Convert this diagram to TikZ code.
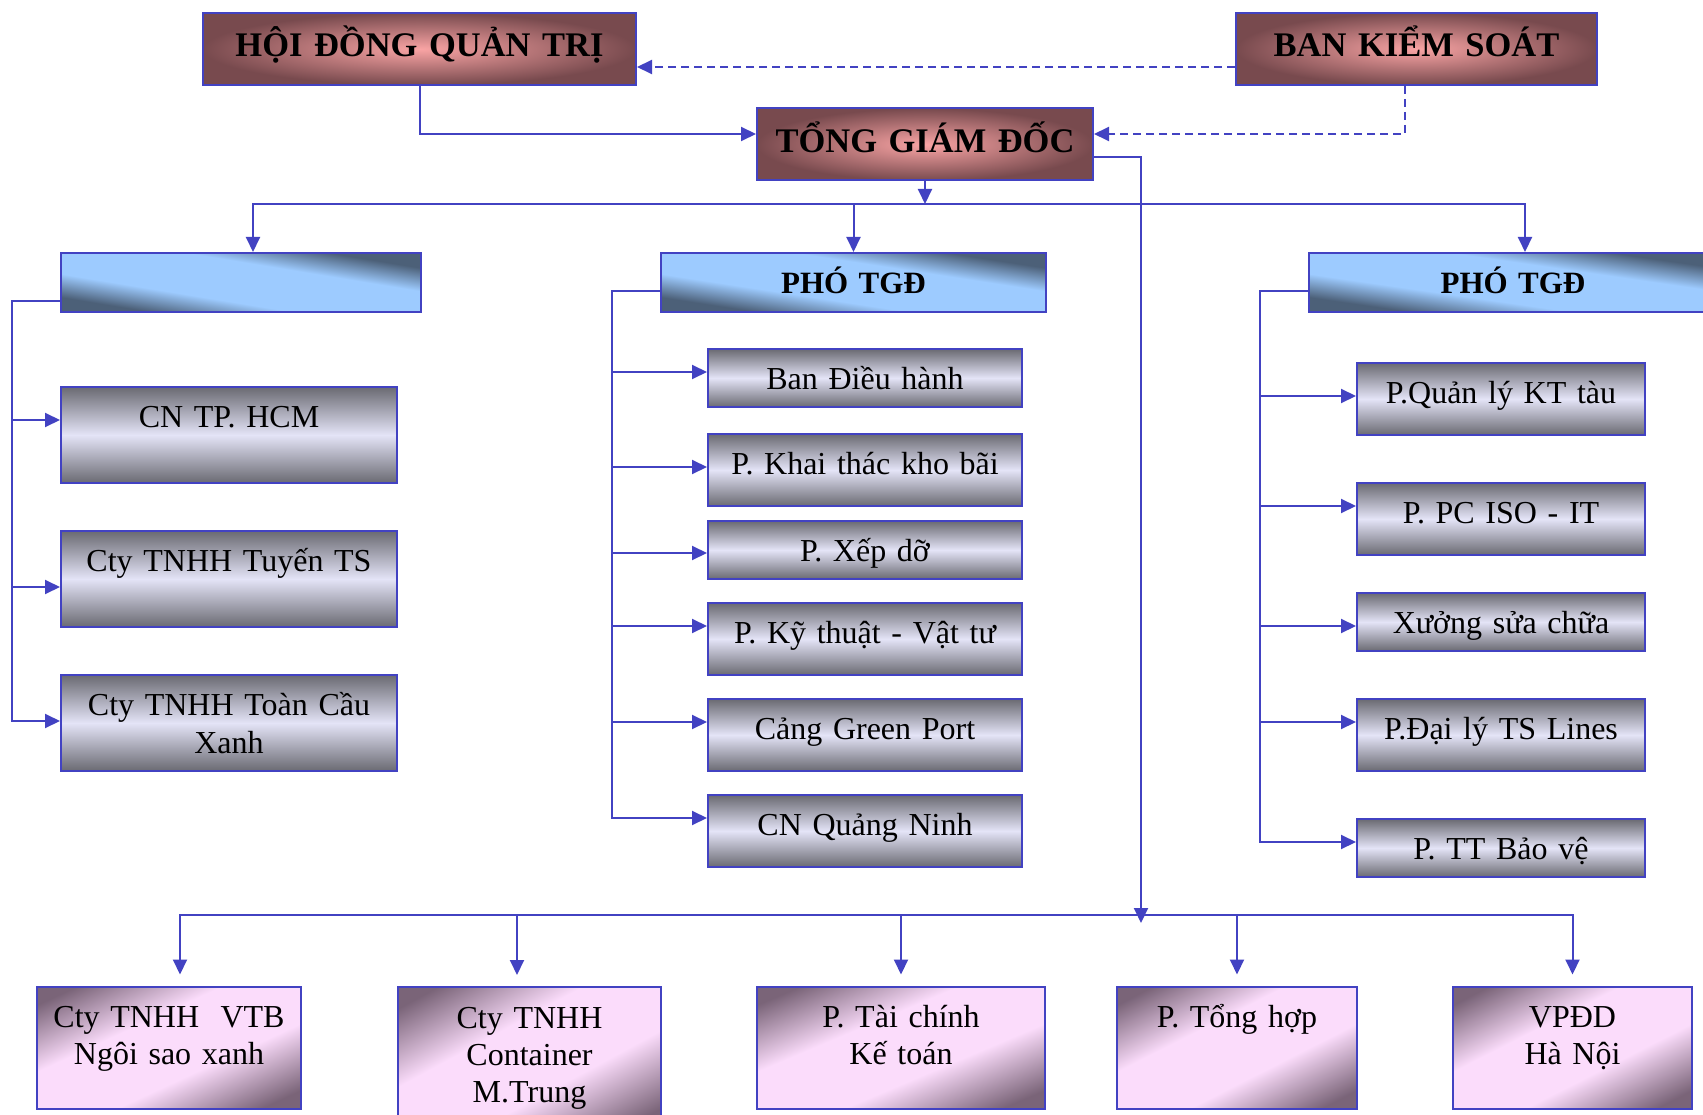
\documentclass[tikz,border=0pt]{standalone}
\usepackage{fontspec}
\setmainfont{Liberation Serif}
\usetikzlibrary{arrows.meta}
\definecolor{LineBlue}{HTML}{4242C2}
\definecolor{BoardDark}{HTML}{784A4E}
\definecolor{BoardLight}{HTML}{F9A4A4}
\definecolor{UnitDark}{HTML}{6A6A72}
\definecolor{UnitLight}{HTML}{E4E4F7}
% diagonal shadings: light band along one diagonal, dark in the two other corners
% (ViceLight 9DCBFF -> ViceDark 4C6078, BranchLight FBDCFB -> BranchDark 7A6478)
\pgfdeclarefunctionalshading{viceshade}{\pgfpointorigin}{\pgfpoint{100bp}{100bp}}{}{
  add 100 sub abs 50 div 0.35 sub 0.4 div
  dup 0 lt {pop 0} if dup 1 gt {pop 1} if
  dup dup
  -0.318 mul 0.616 add 3 1 roll
  -0.420 mul 0.796 add exch
  -0.529 mul 1.0 add}
\pgfdeclarefunctionalshading{branchshade}{\pgfpointorigin}{\pgfpoint{100bp}{100bp}}{}{
  sub abs 50 div 0.3 sub 0.55 div
  dup 0 lt {pop 0} if dup 1 gt {pop 1} if
  dup dup
  -0.506 mul 0.984 add 3 1 roll
  -0.471 mul 0.863 add exch
  -0.513 mul 0.984 add}

\begin{document}
\begin{tikzpicture}[x=1pt, y=-1pt,
  % ── board / director boxes ───────────────────────────────
  board/.style={
    draw=LineBlue, line width=2pt, inner sep=0pt, align=center,
    inner color=BoardLight, outer color=BoardDark,
    font=\fontsize{34.5}{40}\selectfont\bfseries,
    text width=#1, text height=44pt, text depth=28pt
  },
  % ── deputy boxes ─────────────────────────────────────────
  vice/.style={
    draw=LineBlue, line width=2pt, inner sep=0pt, align=center,
    shade, shading=viceshade,
    font=\fontsize{31}{37}\selectfont\bfseries,
    text width=#1, text height=41pt, text depth=18pt
  },
  % ── department boxes ─────────────────────────────────────
  unit/.style={
    draw=LineBlue, line width=2pt, inner sep=0pt, align=center,
    top color=UnitDark, bottom color=UnitDark, middle color=UnitLight,
    font=\fontsize{32}{38}\selectfont,
    text height=40pt, text depth=#1
  },
  unit/.default=32pt,
  lcol/.style={text width=336pt},
  mcol/.style={text width=314pt},
  rcol/.style={text width=288pt},
  % ── branch boxes (bottom row) ────────────────────────────
  branch/.style={
    draw=LineBlue, line width=2pt, inner sep=0pt, align=center,
    shade, shading=branchshade,
    font=\fontsize{32}{37}\selectfont,
    text width=#1, text height=41pt, text depth=81pt
  },
  % ── connectors ───────────────────────────────────────────
  link/.style={draw=LineBlue, line width=2pt, -{Triangle[length=15pt,width=14pt]}},
  dlink/.style={link, dash pattern=on 8pt off 5pt}
]
\useasboundingbox (0,0) rectangle (1703,1115);
\clip (0,0) rectangle (1703,1115);

%% ── Top management ──
\node[board=433pt] (hdqt) at (419.5,49)  {HỘI ĐỒNG QUẢN TRỊ};
\node[board=361pt] (bks)  at (1416.5,49) {BAN KIỂM SOÁT};
\node[board=336pt] (tgd)  at (925,144.5) {TỔNG GIÁM ĐỐC};

%% ── Deputies ──
\node[vice=360pt] (vice1) at (241,282.5)   {};
\node[vice=385pt] (vice2) at (853.5,282.5) {PHÓ TGĐ};
\node[vice=408pt] (vice3) at (1513,282.5)  {PHÓ TGĐ};

%% ── Left column ──
\node[unit=56pt, lcol] (hcm) at (229,435) {CN TP. HCM};
\node[unit=56pt, lcol] (tts) at (229,579) {Cty TNHH Tuyến TS};
\node[unit=56pt, lcol] (tcx) at (229,723) {Cty TNHH Toàn Cầu\\Xanh};

%% ── Middle column ──
\node[unit=18pt, mcol] (bdh)  at (865,378) {Ban Điều hành};
\node[unit, mcol]      (ktkb) at (865,470) {P. Khai thác kho bãi};
\node[unit=18pt, mcol] (xd)   at (865,550) {P. Xếp dỡ};
\node[unit, mcol]      (ktvt) at (865,639) {P. Kỹ thuật - Vật tư};
\node[unit, mcol]      (gp)   at (865,735) {Cảng Green Port};
\node[unit, mcol]      (qn)   at (865,831) {CN Quảng Ninh};

%% ── Right column ──
\node[unit, rcol]      (qlkt) at (1501,399) {P.Quản lý KT tàu};
\node[unit, rcol]      (iso)  at (1501,519) {P. PC ISO - IT};
\node[unit=18pt, rcol] (xsc)  at (1501,622) {Xưởng sửa chữa};
\node[unit, rcol]      (dl)   at (1501,735) {P.Đại lý TS Lines};
\node[unit=18pt, rcol] (bv)   at (1501,848) {P. TT Bảo vệ};

%% ── Bottom row ──
\node[branch=264pt] (vtb)  at (169,1047.5)  {Cty TNHH\ \ VTB\\Ngôi sao xanh};
\node[branch=263pt, text depth=102pt] (cont) at (529.5,1058.5) {Cty TNHH\\Container\\M.Trung};
\node[branch=288pt] (tckt) at (901,1047.5)  {P. Tài chính\\Kế toán};
\node[branch=240pt] (th)   at (1237,1047.5) {P. Tổng hợp};
\node[branch=239pt] (vpdd) at (1572.5,1047.5) {VPĐD\\Hà Nội};

%% ── Bus points ──
\coordinate (topbus) at (925,204);
\coordinate (lowbus) at (1141,915);

%% ── Edges: top management ──
\draw[link]  (hdqt.south) |- ([yshift=10.5pt]tgd.west);
\draw[dlink] ([yshift=-18pt]bks.west) -- ([yshift=-18pt]hdqt.east);
\draw[dlink] ([xshift=-11.5pt]bks.south) |- ([yshift=10.5pt]tgd.east);

%% ── Edges: director → deputies ──
\draw[link] (tgd.south) -- (topbus);
\draw[link] (topbus) -| ([xshift=12pt]vice1.north);
\draw[link] (topbus -| vice2.north) -- (vice2.north);
\draw[link] (topbus) -| ([xshift=12pt]vice3.north);

%% ── Edges: deputies → departments ──
\foreach \c/\d in {hcm/34, tts/57, tcx/47}
  \draw[link] ([yshift=-18.5pt]vice1.west) -- ++(-48,0) |- ([yshift=-\d]\c.north west);
\foreach \c/\d in {bdh/24, ktkb/34, xd/33, ktvt/24, gp/24, qn/24}
  \draw[link] ([yshift=-8.5pt]vice2.west) -- ++(-48,0) |- ([yshift=-\d]\c.north west);
\foreach \c/\d in {qlkt/34, iso/24, xsc/34, dl/24, bv/24}
  \draw[link] ([yshift=-8.5pt]vice3.west) -- ++(-48,0) |- ([yshift=-\d]\c.north west);

%% ── Edges: director → bottom row ──
\draw[link] ([yshift=-12.5pt]tgd.east) -| ([yshift=-8pt]lowbus);
\foreach \b/\dx in {vtb/11, cont/-12.5, tckt/0, th/0, vpdd/0}
  \draw[link] (lowbus) -| ([xshift=\dx, yshift=11pt]\b.north);

\end{tikzpicture}
\end{document}
